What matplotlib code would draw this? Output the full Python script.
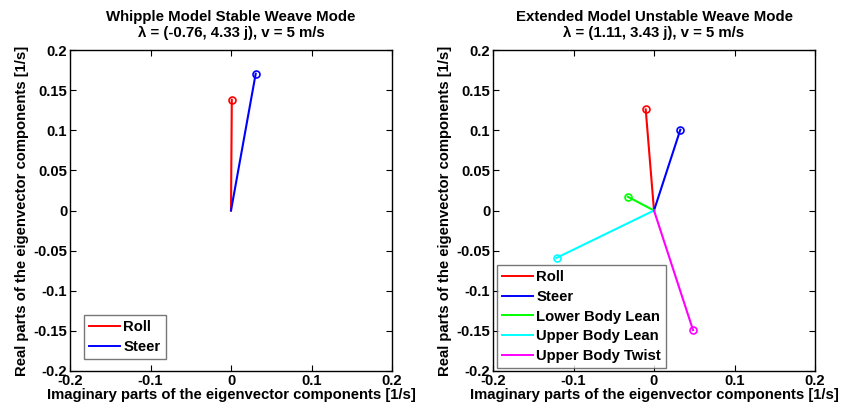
import numpy as np
import matplotlib.pyplot as plt

plt.rcParams['font.family'] = ['Liberation Sans', 'DejaVu Sans']
plt.rcParams['font.weight'] = 'bold'

# Eigenvector components (imaginary, real)
whipple_names = ["Roll", "Steer"]
whipple_imag = [0.001, 0.0307]
whipple_real = [0.138, 0.1705]
whipple_colors = ['#ff0000', '#0000ff']

ext_names = ["Roll", "Steer", "Lower Body Lean", "Upper Body Lean", "Upper Body Twist"]
ext_imag = [-0.0103, 0.0327, -0.0327, -0.121, 0.0485]
ext_real = [0.126, 0.1007, 0.0172, -0.059, -0.149]
ext_colors = ['#ff0000', '#0000ff', '#00ff00', '#00ffff', '#ff00ff']

titles = ["Whipple Model Stable Weave Mode\n\u03bb = (-0.76, 4.33 j), v = 5 m/s",
          "Extended Model Unstable Weave Mode\n\u03bb = (1.11, 3.43 j), v = 5 m/s"]

fig = plt.figure(figsize=(8.41, 4.16), dpi=100)
ax1 = fig.add_axes([70 / 841, 1 - 371 / 416, 322 / 841, 321 / 416])
ax2 = fig.add_axes([493 / 841, 1 - 371 / 416, 322 / 841, 321 / 416])

datasets = [(ax1, whipple_names, whipple_imag, whipple_real, whipple_colors),
            (ax2, ext_names, ext_imag, ext_real, ext_colors)]

for i, (ax, names, xs, ys, cols) in enumerate(datasets):
    for name, x, y, c in zip(names, xs, ys, cols):
        ax.plot([0, x], [0, y], color=c, lw=1.5, label=name)
        ax.plot([x], [y], 'o', mfc='none', mec=c, ms=5, mew=1.2)
    ax.set_xlim(-0.2, 0.2)
    ax.set_ylim(-0.2, 0.2)
    ax.set_xticks([-0.2, -0.1, 0, 0.1, 0.2])
    ax.set_xticklabels(['-0.2', '-0.1', '0', '0.1', '0.2'])
    ax.set_yticks(np.arange(-0.2, 0.201, 0.05))
    ax.set_yticklabels(['-0.2', '-0.15', '-0.1', '-0.05', '0', '0.05', '0.1', '0.15', '0.2'])
    ax.tick_params(direction='in', top=True, right=True, labelsize=10.7, length=4, pad=2)
    for s in ax.spines.values():
        s.set_linewidth(1.0)
    ax.set_title(titles[i], fontsize=10.8, fontweight='bold', pad=9, linespacing=1.2)
    ax.set_xlabel("Imaginary parts of the eigenvector components [1/s]", fontsize=10.7,
                  fontweight='bold', labelpad=0)
    ax.set_ylabel("Real parts of the eigenvector components [1/s]", fontsize=10.7,
                  fontweight='bold', labelpad=3)

leg_kw = dict(loc='lower left', fontsize=10.7, fancybox=False, edgecolor='#555555',
              handlelength=2.1, borderpad=0.35, labelspacing=0.38, handletextpad=0.2,
              borderaxespad=0)
leg1 = ax1.legend(bbox_to_anchor=(0.043, 0.037), **leg_kw)
leg2 = ax2.legend(bbox_to_anchor=(0.012, 0.009), **leg_kw)
for leg in (leg1, leg2):
    leg.get_frame().set_linewidth(1.0)
    for line in leg.get_lines():
        line.set_linewidth(1.4)

fig.savefig("out.png", dpi=100)
